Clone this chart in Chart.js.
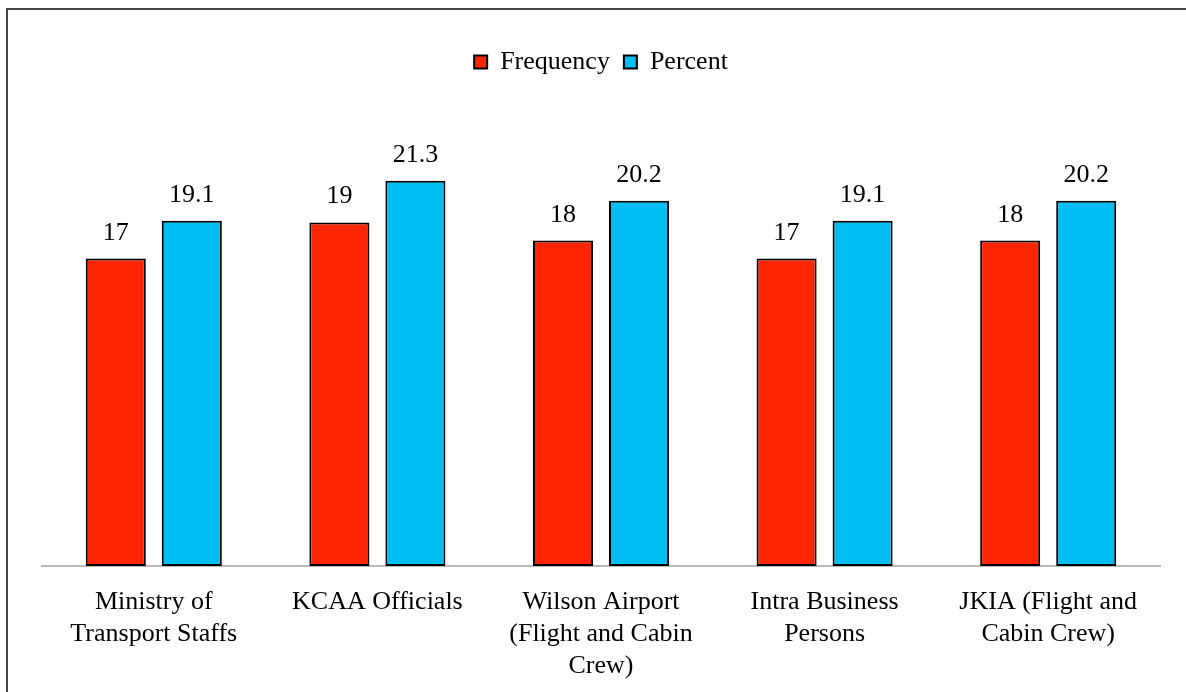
<!DOCTYPE html>
<html>
<head>
<meta charset="utf-8">
<script src="https://cdn.jsdelivr.net/npm/chart.js@4/dist/chart.umd.min.js"></script>
<style>
  html, body { margin: 0; padding: 0; background: #fff; }
  #wrap { position: relative; width: 1186px; height: 692px; overflow: hidden; }
  #frame { position: absolute; left: 6px; top: 8px; width: 1200px; height: 700px; border: 2px solid #444; box-sizing: border-box; pointer-events: none; }
  canvas { position: absolute; left: 0; top: 0; }
</style>
</head>
<body>
<div id="wrap">
  <canvas id="grafico" width="1186" height="692"></canvas>
  <div id="frame"></div>
</div>
<script>
const categorias = [
  ["Ministry of", "Transport Staffs"],
  "KCAA Officials",
  ["Wilson Airport", "(Flight and Cabin", "Crew)"],
  ["Intra Business", "Persons"],
  ["JKIA (Flight and", "Cabin Crew)"]
];
const frequencia = [17, 19, 18, 17, 18];
const percentual = [19.1, 21.3, 20.2, 19.1, 20.2];

const fonte = "'Liberation Serif', 'Times New Roman', serif";

// rótulos acima das barras
const rotulos = {
  id: "rotulos",
  afterDatasetsDraw(chart) {
    const ctx = chart.ctx;
    ctx.save();
    ctx.font = "26px " + fonte;
    ctx.fillStyle = "#000";
    ctx.textAlign = "center";
    ctx.textBaseline = "alphabetic";
    chart.data.datasets.forEach((ds, i) => {
      chart.getDatasetMeta(i).data.forEach((bar, j) => {
        ctx.fillText(String(ds.data[j]), bar.x, bar.y - 19);
      });
    });
    ctx.restore();
  }
};

const ctx = document.getElementById("grafico").getContext("2d");
new Chart(ctx, {
  type: "bar",
  data: {
    labels: categorias,
    datasets: [
      {
        label: "Frequency",
        data: frequencia,
        backgroundColor: "#FF2500",
        borderColor: "#000",
        borderWidth: 2,
        borderSkipped: false,
        barPercentage: 0.79,
        categoryPercentage: 0.68
      },
      {
        label: "Percent",
        data: percentual,
        backgroundColor: "#00BDF2",
        borderColor: "#000",
        borderWidth: 2,
        borderSkipped: false,
        barPercentage: 0.79,
        categoryPercentage: 0.68
      }
    ]
  },
  options: {
    responsive: false,
    animation: false,
    layout: { padding: { left: 42, right: 26, top: 35, bottom: -10 } },
    plugins: {
      tooltip: { enabled: false },
      legend: {
        position: "top",
        labels: {
          font: { family: fonte, size: 26 },
          color: "#000",
          boxWidth: 13,
          boxHeight: 13,
          padding: 14,
          useBorderRadius: false
        }
      }
    },
    scales: {
      y: { display: false, min: 0, max: 26.6 },
      x: {
        grid: { display: false, drawTicks: false },
        border: { display: true, color: "#bbb", width: 2 },
        ticks: {
          font: { family: fonte, size: 26, lineHeight: 1.23 },
          color: "#000",
          padding: 20,
          maxRotation: 0,
          autoSkip: false
        }
      }
    }
  },
  plugins: [rotulos]
});
</script>
</body>
</html>
